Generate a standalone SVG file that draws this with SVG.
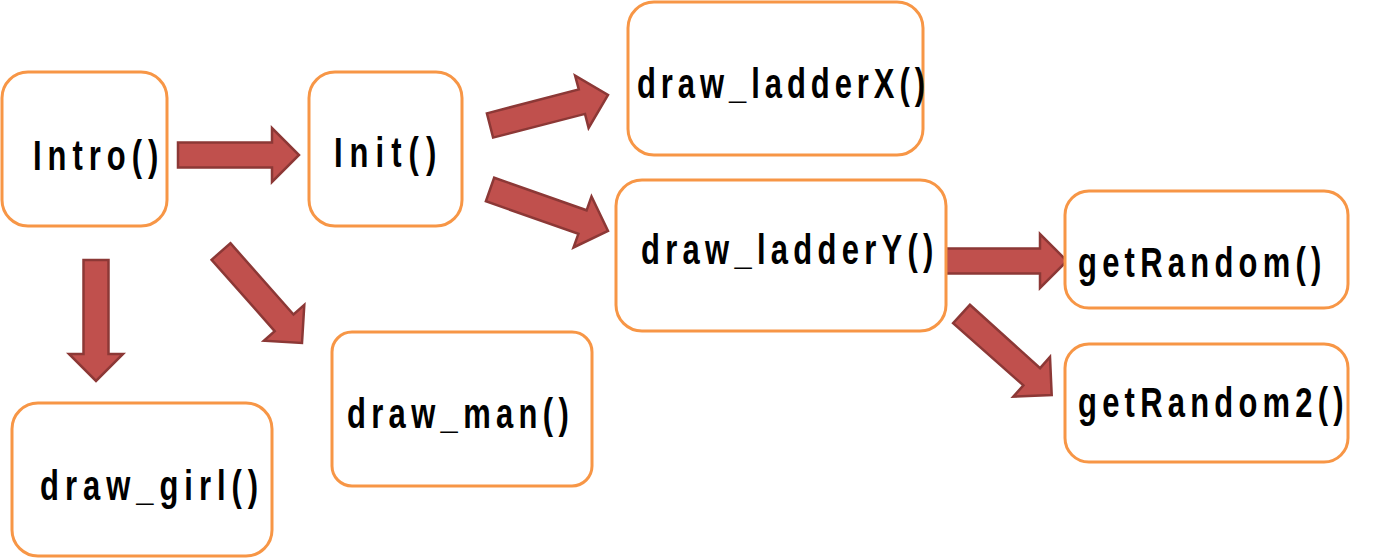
<svg xmlns="http://www.w3.org/2000/svg" width="1375" height="559" viewBox="0 0 1375 559">
<style>
.box{fill:#fff;stroke:#F79646;stroke-width:3}
.lbl{font-family:"Liberation Sans",Arial,sans-serif;font-weight:bold;font-size:43px;fill:#000}
.arr{fill:#C0504D;stroke:#8C3836;stroke-width:2.5;stroke-linejoin:miter}
</style>
<rect width="1375" height="559" fill="#fff"/>
<g id="connectors">
<polygon class="arr" points="178,142.5 272,142.5 272,128 299,155 272,182 272,167.5 178,167.5"/>
<polygon class="arr" points="486.9,113.4 578.8,89.4 575.1,75.6 608,95 588.6,127.9 585,113.9 493.1,137.6"/>
<polygon class="arr" points="494.2,177.7 586.6,210.3 591.5,196.5 608,231 573.5,247.5 578.4,233.8 485.9,201.3"/>
<polygon class="arr" points="946,248.5 1040,248.5 1040,234 1067,261 1040,288 1040,273.5 946,273.5"/>
<polygon class="arr" points="969.9,304.8 1040.1,368.2 1050,357 1051.7,395 1013.3,396.7 1023.4,385.4 953.1,323.2"/>
<polygon class="arr" points="83.5,260 108.5,260 108.5,354 123,354 96,381 69,354 83.5,354"/>
<polygon class="arr" points="230.4,243.2 293.5,314.5 304.3,304.9 302,343 263.9,340.7 274.7,331.1 211.6,259.8"/>
</g>
<g id="intro"><rect class="box" x="2" y="72" width="165" height="154" rx="26"/><text class="lbl" transform="translate(33,170) scale(0.72,1)" textLength="174" lengthAdjust="spacing">Intro()</text></g>
<g id="init"><rect class="box" x="309" y="72" width="153" height="154" rx="26"/><text class="lbl" transform="translate(334,167) scale(0.72,1)" textLength="142" lengthAdjust="spacing">Init()</text></g>
<g id="draw_ladderX"><rect class="box" x="628" y="2" width="295" height="153" rx="26"/><text class="lbl" transform="translate(637,98) scale(0.72,1)" textLength="400" lengthAdjust="spacing">draw_ladderX()</text></g>
<g id="draw_ladderY"><rect class="box" x="616" y="180" width="330" height="151" rx="26"/><text class="lbl" transform="translate(641,264) scale(0.72,1)" textLength="406" lengthAdjust="spacing">draw_ladderY()</text></g>
<g id="getRandom"><rect class="box" x="1065" y="191" width="283" height="117" rx="24"/><text class="lbl" transform="translate(1078,277) scale(0.72,1)" textLength="338" lengthAdjust="spacing">getRandom()</text></g>
<g id="getRandom2"><rect class="box" x="1065" y="344" width="283" height="118" rx="24"/><text class="lbl" transform="translate(1078,417) scale(0.72,1)" textLength="369" lengthAdjust="spacing">getRandom2()</text></g>
<g id="draw_girl"><rect class="box" x="12" y="403" width="260" height="153" rx="26"/><text class="lbl" transform="translate(40,500) scale(0.72,1)" textLength="303" lengthAdjust="spacing">draw_girl()</text></g>
<g id="draw_man"><rect class="box" x="332" y="332" width="260" height="154" rx="20"/><text class="lbl" transform="translate(347,428) scale(0.72,1)" textLength="308" lengthAdjust="spacing">draw_man()</text></g>
</svg>
